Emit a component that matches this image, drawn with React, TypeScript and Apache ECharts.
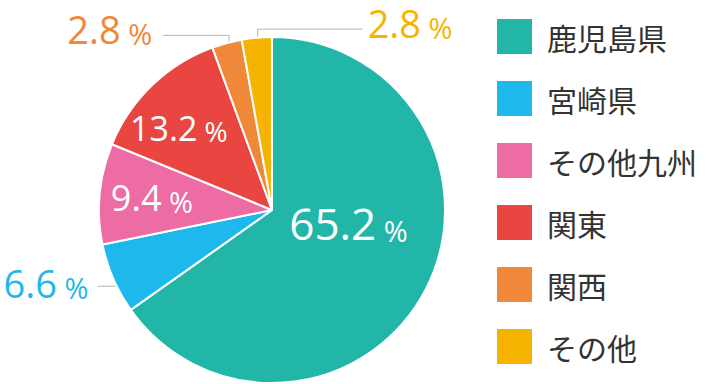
import React, { useEffect, useRef } from 'react';
import * as echarts from 'echarts';

const categories = ['鹿児島県', '宮崎県', 'その他九州', '関東', '関西', 'その他'];
const shares = [65.2, 6.6, 9.4, 13.2, 2.8, 2.8];
const colors = ['#21b6a8', '#1fb8ec', '#ec6ca3', '#e94641', '#f0883a', '#f6b400'];

const W = 708;
const H = 384;
const CX = 272;
const CY = 210;
const R = 173;

const labelPositions = ['inside', 'outside', 'inside', 'inside', 'outside', 'outside'];
const numberSizes = [44, 38, 36, 34, 38, 38];
const percentSizes = [29, 29, 29, 28, 29, 29];
const insideOffsets: Record<number, [number, number]> = { 0: [-3, -28], 2: [-31, -4], 3: [-31, -18] };
const outsideGuides: Record<number, { startR: number; rise: number; run: number; gap: number; dy: number }> = {
  1: { startR: 0.935, rise: 12, run: -26, gap: 9, dy: -3 },
  4: { startR: 0.95, rise: -16, run: -66, gap: 11, dy: -6 },
  5: { startR: 0.945, rise: -18, run: 105, gap: 5, dy: -6 },
};

const NUM_FONT = '"Open Sans", "Noto Sans", sans-serif';
const JP_FONT = '"Noto Sans CJK JP", "Noto Sans", sans-serif';

export default function App() {
  const ref = useRef<HTMLDivElement>(null);
  useEffect(() => {
    document.body.style.margin = '0';
    if (!ref.current) return;
    const chart = echarts.init(ref.current, undefined, { renderer: 'svg' });
    const total = shares.reduce((a, b) => a + b, 0);
    const rich: Record<string, any> = {};
    shares.forEach((_, i) => {
      const c = labelPositions[i] === 'inside' ? '#ffffff' : colors[i];
      rich['n' + i] = { fontSize: numberSizes[i], color: c, fontFamily: NUM_FONT, verticalAlign: 'bottom', lineHeight: numberSizes[i] };
      rich['p' + i] = { fontSize: percentSizes[i], color: c, fontFamily: NUM_FONT, verticalAlign: 'bottom', lineHeight: numberSizes[i] };
    });
    const data = categories.map((name, i) => ({
      name,
      value: shares[i],
      itemStyle: { color: colors[i] },
      label: { position: labelPositions[i] },
      labelLine: { show: labelPositions[i] !== 'inside' },
    }));
    chart.setOption({
      animation: false,
      legend: {
        orient: 'vertical',
        left: 495,
        top: 17,
        padding: 0,
        itemWidth: 37,
        itemHeight: 37,
        itemGap: 23,
        icon: 'rect',
        selectedMode: false,
        data: categories,
        textStyle: { fontSize: 30, lineHeight: 37, color: '#333333', fontFamily: JP_FONT, padding: [0, 0, 0, 9] },
      },
      series: [
        {
          type: 'pie',
          center: [CX, CY],
          radius: R,
          startAngle: 90,
          clockwise: true,
          avoidLabelOverlap: false,
          itemStyle: { borderColor: '#ffffff', borderWidth: 2 },
          emphasis: { disabled: true },
          label: {
            show: true,
            formatter: (p: any) => `{n${p.dataIndex}|${Number(p.value).toFixed(1)}}{p${p.dataIndex}| %}`,
            rich,
          },
          labelLine: { show: true, length: 10, length2: 20, lineStyle: { color: '#b5b5b5', width: 1 } },
          labelLayout: (p: any) => {
            const i = p.dataIndex;
            if (insideOffsets[i]) return { dx: insideOffsets[i][0], dy: insideOffsets[i][1] };
            const g = outsideGuides[i];
            if (!g) return {};
            let before = 0;
            for (let k = 0; k < i; k++) before += shares[k];
            const mid = (before + shares[i] / 2) / total;
            const th = ((90 - 360 * mid) * Math.PI) / 180;
            const x0 = CX + g.startR * R * Math.cos(th);
            const y0 = CY - g.startR * R * Math.sin(th);
            const y1 = y0 + g.rise;
            const x2 = x0 + g.run;
            return {
              x: x2 + Math.sign(g.run) * g.gap,
              y: y1 + g.dy,
              align: g.run < 0 ? 'right' : 'left',
              verticalAlign: 'middle',
              labelLinePoints: [
                [x0, y0],
                [x0, y1],
                [x2, y1],
              ],
            };
          },
          data,
        },
      ],
    });
    return () => chart.dispose();
  }, []);
  return <div ref={ref} style={{ width: W, height: H }} />;
}
